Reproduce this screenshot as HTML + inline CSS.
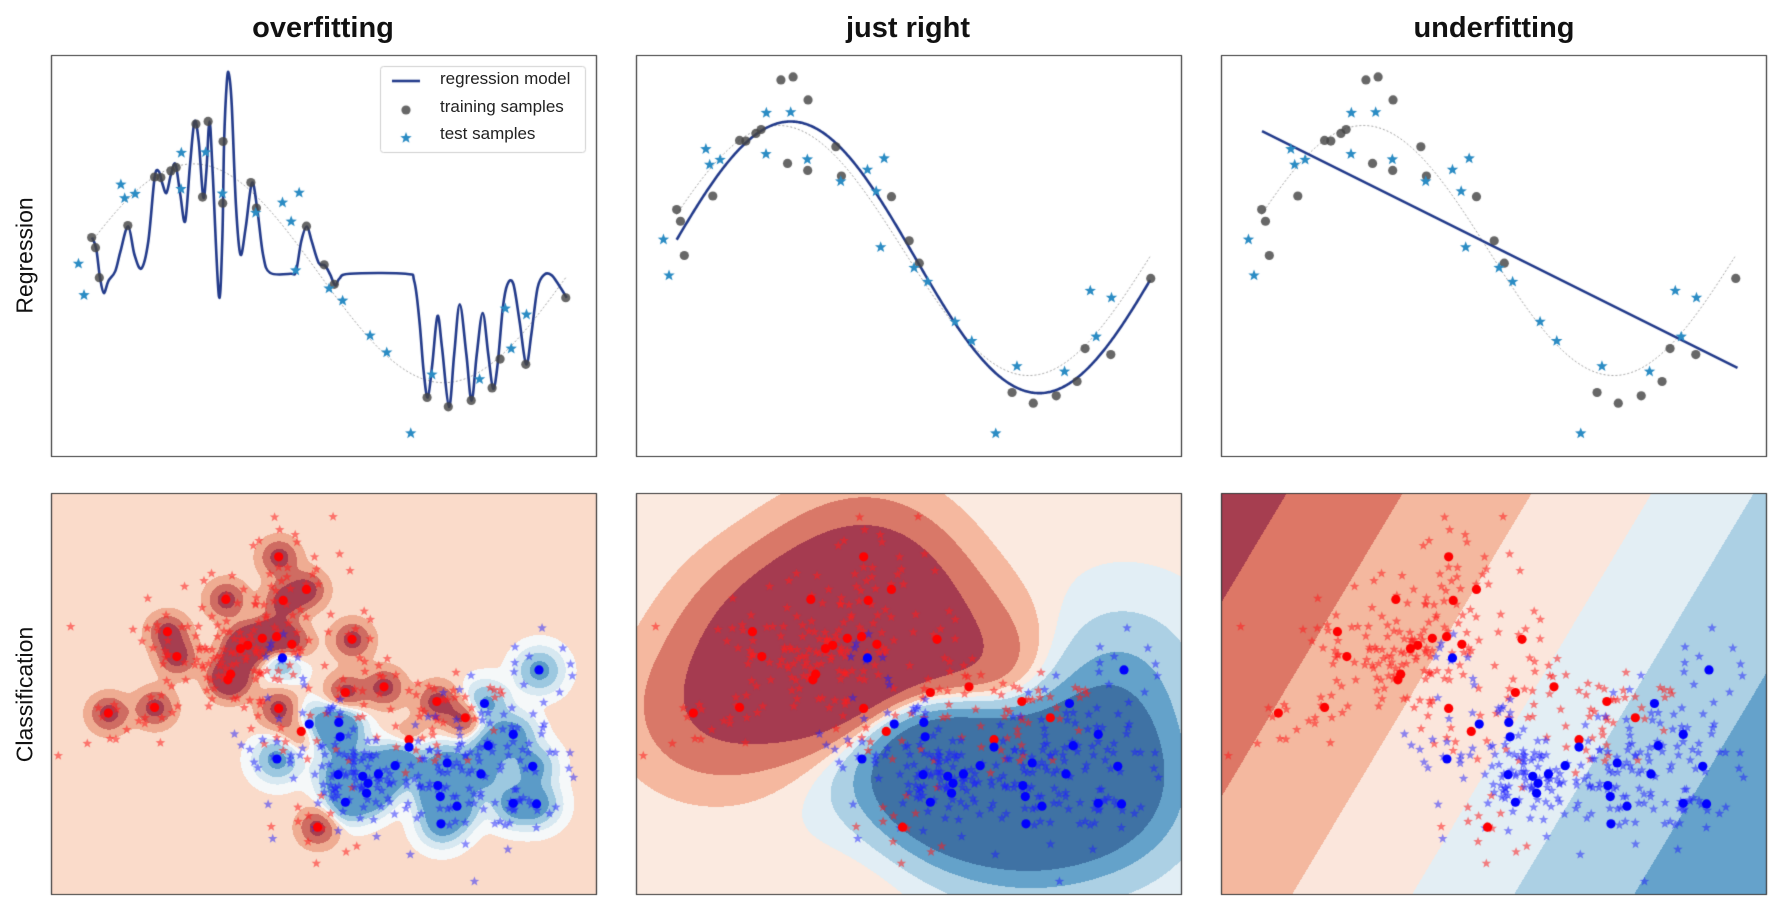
<!DOCTYPE html>
<html><head><meta charset="utf-8"><style>
html,body{margin:0;padding:0;background:#fff;width:1785px;height:913px;overflow:hidden;position:relative;font-family:"Liberation Sans",sans-serif}
canvas{position:absolute;left:0;top:0}
.t{position:absolute;font-weight:bold;font-size:29px;text-align:center;width:400px;top:12px;color:#111}
.r{position:absolute;font-size:23px;color:#111;transform:rotate(-90deg);transform-origin:center;width:300px;text-align:center}
.lg{position:absolute;font-size:17px;color:#222;left:440px}
</style></head><body>
<canvas id="c" width="1785" height="913"></canvas>
<div class="t" style="left:123px">overfitting</div>
<div class="t" style="left:708px">just right</div>
<div class="t" style="left:1294px">underfitting</div>
<div class="r" style="left:-125px;top:242px">Regression</div>
<div class="r" style="left:-125px;top:681px">Classification</div>
<div class="lg" style="top:69px">regression model</div>
<div class="lg" style="top:97px">training samples</div>
<div class="lg" style="top:124px">test samples</div>
<script>
const c=document.getElementById('c'),g=c.getContext('2d');
const W=545,H=401,Ls=[51,636,1221],T1=55,T2=493;
function mx(L,zx){return L+zx*W/1568} function my(T,zy){return T+zy*H/1206}
function star(x,y,r,col){g.beginPath();for(let i=0;i<10;i++){const a=-Math.PI/2+i*Math.PI/5,rr=i%2?r*0.42:r;g.lineTo(x+rr*Math.cos(a),y+rr*Math.sin(a));}g.closePath();g.fillStyle=col;g.fill();}
function dot(x,y,r,col){g.beginPath();g.arc(x,y,r,0,7);g.fillStyle=col;g.fill();}
const tr=[[117,465],[128,500],[139,603],[221,424],[298,257],[316,259],[345,236],[360,224],[417,75],[452,66],[495,135],[436,326],[494,347],[575,276],[591,364],[735,426],[786,559],[815,626],[1082,1015],[1143,1047],[1209,1025],[1269,982],[1292,883],[1366,901],[1481,672]];
const te=[[79,555],[95,663],[201,283],[212,330],[242,315],[375,174],[374,298],[445,172],[493,314],[589,380],[666,345],[714,311],[691,410],[704,578],[800,640],[839,682],[918,802],[966,860],[1035,1138],[1096,936],[1233,952],[1307,709],[1368,730],[1324,847]];
function trueY(x){return 588-376*Math.cos(2*Math.PI*(x-410)/1440)}
function fitY(x){return 608.5-408.5*Math.cos(2*Math.PI*(x-445)/1430)}
for(let p=0;p<3;p++){
  const L=Ls[p],tf=p==0?(v=>0.875*v+142):(v=>v);
  g.fillStyle='#fff';g.fillRect(L,T1,W,H);
  g.save();g.setLineDash([2,2]);g.strokeStyle='#999';g.lineWidth=0.9;g.beginPath();
  for(let x=117;x<=1481;x+=4)g.lineTo(mx(L,x),my(T1,tf(trueY(x))));g.stroke();g.restore();
  g.strokeStyle='#233b8b';g.lineWidth=2.6;g.lineJoin='round';g.beginPath();
  if(p==1){for(let x=117;x<=1481;x+=3)g.lineTo(mx(L,x),my(T1,fitY(x)));}
  else if(p==2){g.moveTo(mx(L,118),my(T1,229));g.lineTo(mx(L,1486),my(T1,941));}
  else{
    const P=[[118,549],[130,582],[141,670],[152,716],[165,680],[185,650],[200,590],[222,515],[240,600],[260,642],[280,560],[298,370],[310,350],[320,385],[332,415],[345,360],[358,328],[372,420],[386,500],[400,330],[413,200],[425,260],[438,427],[447,350],[456,200],[465,350],[483,725],[493,550],[498,262],[506,80],[512,58],[520,150],[532,450],[545,600],[560,520],[578,385],[593,460],[610,600],[630,655],[690,658],[705,650],[720,560],[736,516],[750,560],[770,625],[788,633],[803,660],[818,693],[830,672],[860,658],[1020,658],[1045,680],[1060,800],[1072,950],[1084,1030],[1097,930],[1112,785],[1125,880],[1145,1058],[1160,900],[1176,750],[1195,900],[1210,1040],[1225,900],[1242,776],[1258,900],[1272,1003],[1285,930],[1300,760],[1313,690],[1330,688],[1348,800],[1367,930],[1382,840],[1400,700],[1420,660],[1440,662],[1460,690],[1484,730]].map(q=>[mx(L,q[0]),my(T1,q[1])]);
    g.moveTo(P[0][0],P[0][1]);
    for(let i=0;i<P.length-1;i++){const a=P[Math.max(0,i-1)],b=P[i],d=P[i+1],e=P[Math.min(P.length-1,i+2)];
      g.bezierCurveTo(b[0]+(d[0]-a[0])/6,b[1]+(d[1]-a[1])/6,d[0]-(e[0]-b[0])/6,d[1]-(e[1]-b[1])/6,d[0],d[1]);}
  }
  g.stroke();
  tr.forEach(q=>dot(mx(L,q[0]),my(T1,tf(q[1])),4.6,'rgba(70,70,70,0.82)'));
  te.forEach(q=>star(mx(L,q[0]),my(T1,tf(q[1])),6,'#2b8cc4'));
}
g.fillStyle='rgba(255,255,255,0.9)';g.strokeStyle='#d0d0d0';g.lineWidth=1;
g.beginPath();g.roundRect?g.roundRect(380.5,66.5,205,86,3):g.rect(380.5,66.5,205,86);g.fill();g.stroke();
g.strokeStyle='#233b8b';g.lineWidth=2.6;g.beginPath();g.moveTo(392,81);g.lineTo(420,81);g.stroke();
dot(406,110,4.6,'rgba(70,70,70,0.82)');star(406,138,6,'#2b8cc4');
const R=[[655,192],[735,290],[668,323],[503,320],[335,417],[362,492],[608,437],[649,432],[693,455],[545,468],[566,458],[517,545],[509,562],[298,645],[165,662],[655,648],[847,600],[958,583],[866,440],[1110,627],[1192,676],[720,717],[1030,742],[767,1005]];
const B=[[666,496],[743,695],[828,690],[832,733],[650,800],[826,847],[897,852],[912,873],[908,903],[847,930],[942,845],[990,820],[1030,764],[1140,812],[1113,880],[1120,913],[1168,942],[1122,995],[1247,633],[1258,760],[1237,845],[1330,726],[1386,822],[1330,933],[1397,935],[1404,532]];
function K(pts,x,y,s){let t=0;for(const q of pts){const dx=x-q[0],dy=y-q[1];t+=Math.exp(-(dx*dx+dy*dy)/(2*s*s));}return t}
function hex(h){return [parseInt(h.substr(1,2),16),parseInt(h.substr(3,2),16),parseInt(h.substr(5,2),16)]}
const C4=['#a63e50','#cf6c62','#efac92','#fadbca','#f5f8f9','#d7e8f1','#9cc8e0','#5b9bc8'].map(hex);
const C5=['#a53b50','#d97868','#f5b89f','#fbeae0','#e2eef5','#acd0e4','#64a2ca','#3f72a4'].map(hex);
const C6=['#a63e50','#dd7766','#f4b89f','#fbe6dc','#e3eef4','#acd0e4','#65a2cb'].map(hex);
for(let p=0;p<3;p++){
  const L=Ls[p],img=g.createImageData(W,H),d=img.data;
  for(let j=0;j<H;j++)for(let i=0;i<W;i++){
    const zx=i*1568/W,zy=j*1206/H;let col;
    if(p==0){const D=K(R,zx,zy,38)-K(B,zx,zy,42);
      col=C4[D>0.8?0:D>0.45?1:D>0.15?2:D>-0.04?3:D>-0.2?4:D>-0.45?5:D>-0.8?6:7];}
    else if(p==1){const D=K(R,zx,zy,150)-K(B,zx,zy,150);
      col=C5[D>2.0?0:D>0.9?1:D>0.3?2:D>-0.1?3:D>-0.6?4:D>-1.5?5:D>-2.6?6:7];}
    else{const X=L+i,Y=T2+j,s=X+0.597*(Y-493);
      col=C6[s<1286?0:s<1402?1:s<1531?2:s<1651?3:s<1753?4:s<1873?5:6];}
    const k=(j*W+i)*4;d[k]=col[0];d[k+1]=col[1];d[k+2]=col[2];d[k+3]=255;}
  g.putImageData(img,L,T2);
}
let seed=12345;function rnd(){seed=(seed*1664525+1013904223)>>>0;return seed/4294967296}
function gau(){return Math.sqrt(-2*Math.log(rnd()+1e-9))*Math.cos(2*Math.PI*rnd())}
const SR=[],SB=[];
for(let i=0;i<260;i++){const q=R[Math.floor(rnd()*R.length)];SR.push([q[0]+gau()*70,q[1]+gau()*62]);}
for(let i=0;i<260;i++){const q=B[Math.floor(rnd()*B.length)];SB.push([q[0]+gau()*70,q[1]+gau()*62]);}
for(let p=0;p<3;p++){
  const L=Ls[p];g.save();g.beginPath();g.rect(L,T2,W,H);g.clip();
  SR.forEach(q=>star(mx(L,q[0]),my(T2,q[1]),5,'rgba(255,30,30,0.55)'));
  SB.forEach(q=>star(mx(L,q[0]),my(T2,q[1]),5,'rgba(30,30,255,0.5)'));
  R.forEach(q=>dot(mx(L,q[0]),my(T2,q[1]),4.6,'#ff0000'));
  B.forEach(q=>dot(mx(L,q[0]),my(T2,q[1]),4.6,'#0000ff'));
  g.restore();
}
g.strokeStyle='#333';g.lineWidth=1.2;
for(const T of [T1,T2])for(const L of Ls)g.strokeRect(L+0.5,T+0.5,W,H);
</script>
</body></html>
